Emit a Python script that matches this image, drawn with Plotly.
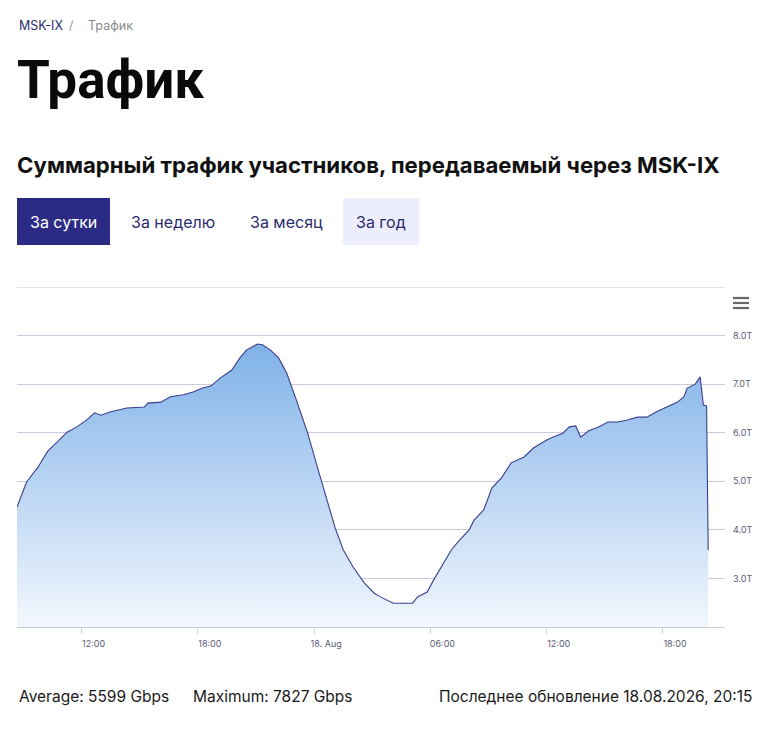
import plotly.graph_objects as go

# ---- data (Tbps) ----
times = [
    "2026-08-17 08:40", "2026-08-17 08:55", "2026-08-17 09:10", "2026-08-17 09:45",
    "2026-08-17 10:15", "2026-08-17 10:45", "2026-08-17 11:15", "2026-08-17 11:45",
    "2026-08-17 12:15", "2026-08-17 12:40", "2026-08-17 13:00", "2026-08-17 13:30",
    "2026-08-17 14:20", "2026-08-17 15:15", "2026-08-17 15:25", "2026-08-17 16:05",
    "2026-08-17 16:35", "2026-08-17 17:15", "2026-08-17 17:45", "2026-08-17 18:15",
    "2026-08-17 18:40", "2026-08-17 19:10", "2026-08-17 19:45", "2026-08-17 20:10",
    "2026-08-17 20:30", "2026-08-17 21:00", "2026-08-17 21:05", "2026-08-17 21:20",
    "2026-08-17 21:45", "2026-08-17 22:10", "2026-08-17 22:35", "2026-08-17 23:05",
    "2026-08-17 23:40", "2026-08-18 00:10", "2026-08-18 00:25", "2026-08-18 00:45",
    "2026-08-18 01:05", "2026-08-18 01:30", "2026-08-18 02:00", "2026-08-18 02:35",
    "2026-08-18 03:05", "2026-08-18 03:25", "2026-08-18 04:05", "2026-08-18 04:35",
    "2026-08-18 05:05", "2026-08-18 05:20", "2026-08-18 05:50", "2026-08-18 06:10",
    "2026-08-18 06:35", "2026-08-18 07:05", "2026-08-18 07:30", "2026-08-18 08:00",
    "2026-08-18 08:15", "2026-08-18 08:45", "2026-08-18 09:10", "2026-08-18 09:40",
    "2026-08-18 10:10", "2026-08-18 10:50", "2026-08-18 11:20", "2026-08-18 12:00",
    "2026-08-18 12:20", "2026-08-18 12:50", "2026-08-18 13:10", "2026-08-18 13:30",
    "2026-08-18 13:45", "2026-08-18 14:10", "2026-08-18 14:40", "2026-08-18 15:10",
    "2026-08-18 15:40", "2026-08-18 16:10", "2026-08-18 16:40", "2026-08-18 17:10",
    "2026-08-18 17:40", "2026-08-18 18:10", "2026-08-18 18:45", "2026-08-18 19:05",
    "2026-08-18 19:15", "2026-08-18 19:40", "2026-08-18 19:55", "2026-08-18 20:05",
    "2026-08-18 20:15", "2026-08-18 20:20",
]
traffic_tbps = [
    4.47, 4.72, 4.99, 5.29,
    5.62, 5.81, 6.01, 6.12,
    6.26, 6.41, 6.36, 6.43,
    6.51, 6.53, 6.61, 6.63,
    6.74, 6.78, 6.84, 6.92,
    6.96, 7.13, 7.29, 7.54,
    7.70, 7.81, 7.827, 7.81,
    7.70, 7.54, 7.23, 6.67,
    5.99, 5.29, 4.96, 4.47,
    4.04, 3.59, 3.24, 2.91,
    2.70, 2.62, 2.49, 2.49,
    2.49, 2.62, 2.72, 2.97,
    3.24, 3.59, 3.79, 4.00,
    4.20, 4.41, 4.86, 5.07,
    5.38, 5.50, 5.69, 5.85,
    5.91, 5.99, 6.12, 6.14,
    5.91, 6.04, 6.12, 6.22,
    6.22, 6.26, 6.32, 6.32,
    6.43, 6.53, 6.63, 6.74,
    6.92, 7.00, 7.15, 6.57,
    6.55, 3.58,
]

x_tickvals = ["2026-08-17 12:00", "2026-08-17 18:00", "2026-08-18 00:00",
              "2026-08-18 06:00", "2026-08-18 12:00", "2026-08-18 18:00"]
x_ticktext = ["12:00", "18:00", "18. Aug", "06:00", "12:00", "18:00"]
y_tickvals = [2, 3, 4, 5, 6, 7, 8, 9]
y_ticktext = ["", "3.0T", "4.0T", "5.0T", "6.0T", "7.0T", "8.0T", ""]

breadcrumb = ["MSK-IX", "/", "Трафик"]
page_title = "Трафик"
subtitle = "Суммарный трафик участников, передаваемый через MSK-IX"
buttons = ["За сутки", "За неделю", "За месяц", "За год"]
avg_text = "Average: 5599 Gbps"
max_text = "Maximum: 7827 Gbps"
updated_text = "Последнее обновление 18.08.2026, 20:15"

# ---- layout geometry (window pixels; page body has an 8px margin) ----
OFF = 8
W, H = 780 - 2 * OFF, 730 - 2 * OFF
PL, PR, PT, PB = 17, 725, 287, 627
FONT = "Inter, Roboto, sans-serif"


def px(x):
    return (x - PL) / (PR - PL)


def py(y):
    return (PB - y) / (PB - PT)


fig = go.Figure()
fig.add_trace(go.Scatter(
    x=times, y=traffic_tbps, mode="lines",
    line=dict(color="#3b3f8f", width=1.1),
    fill="tozeroy",
    fillgradient=dict(type="vertical", start=2, stop=8.6,
                      colorscale=[[0, "rgba(242,247,253,1)"],
                                  [0.5, "rgba(178,208,242,1)"],
                                  [1, "rgba(112,168,228,1)"]]),
    hoverinfo="skip", showlegend=False,
))

ann = []
shapes = []

# breadcrumb
ann.append(dict(x=px(17), y=py(25), text=breadcrumb[0], xanchor="left", yanchor="middle",
                font=dict(family=FONT, size=12.5, color="#2d2d6e")))
ann.append(dict(x=px(71), y=py(25), text=breadcrumb[1], xanchor="center", yanchor="middle",
                font=dict(family=FONT, size=12.5, color="#9a9aa8")))
ann.append(dict(x=px(86), y=py(25), text=breadcrumb[2], xanchor="left", yanchor="middle",
                font=dict(family=FONT, size=12.5, color="#8a8a8a")))
# title
ann.append(dict(x=px(15), y=py(80), text="<b>" + page_title + "</b>", xanchor="left", yanchor="middle",
                font=dict(family="Roboto, Inter, sans-serif", size=53, color="#0a0a0a")))
# subtitle
ann.append(dict(x=px(15), y=py(164), text="<b>" + subtitle + "</b>", xanchor="left", yanchor="middle",
                font=dict(family=FONT, size=22.2, color="#111111")))

# buttons
btn_centers = [63, 173, 286, 381]
shapes.append(dict(type="rect", xref="paper", yref="paper", x0=px(17), x1=px(110),
                   y0=py(198), y1=py(245), fillcolor="#2b2b86", line=dict(width=0), layer="below"))
shapes.append(dict(type="rect", xref="paper", yref="paper", x0=px(343), x1=px(419),
                   y0=py(198), y1=py(245), fillcolor="#eceefb", line=dict(width=0), layer="below"))
for i, (b, cx) in enumerate(zip(buttons, btn_centers)):
    ann.append(dict(x=px(cx), y=py(222), text=b, xanchor="center", yanchor="middle",
                    font=dict(family=FONT, size=16, color="#ffffff" if i == 0 else "#2b2b6e")))

# hamburger menu
for yy in (298, 303, 308):
    shapes.append(dict(type="line", xref="paper", yref="paper", x0=px(733), x1=px(749),
                       y0=py(yy), y1=py(yy), line=dict(color="#666666", width=2.2)))

# top plot border line (top gridline)
shapes.append(dict(type="line", xref="paper", yref="y", x0=0, x1=1, y0=9, y1=9,
                   line=dict(color="#c9c9d6", width=1)))

# bottom stats
ann.append(dict(x=px(17), y=py(696), text=avg_text, xanchor="left", yanchor="middle",
                font=dict(family=FONT, size=15.5, color="#1a1a1a")))
ann.append(dict(x=px(191), y=py(696), text=max_text, xanchor="left", yanchor="middle",
                font=dict(family=FONT, size=15.5, color="#1a1a1a")))
ann.append(dict(x=px(754), y=py(696), text=updated_text, xanchor="right", yanchor="middle",
                font=dict(family=FONT, size=15.5, color="#1a1a1a")))

for a in ann:
    a.update(xref="paper", yref="paper", showarrow=False)

fig.update_layout(
    width=W, height=H,
    margin=dict(l=PL - OFF, r=W - (PR - OFF), t=PT - OFF, b=H - (PB - OFF), pad=0),
    paper_bgcolor="#ffffff", plot_bgcolor="#ffffff",
    annotations=ann, shapes=shapes,
    xaxis=dict(type="date", range=["2026-08-17 08:40", "2026-08-18 21:12"],
               tickvals=x_tickvals, ticktext=x_ticktext,
               showgrid=False, zeroline=False,
               showline=True, linecolor="#c8cbd6", linewidth=1,
               ticks="outside", ticklen=6, tickcolor="#d0d3de", tickwidth=1,
               ticklabelshift=12, ticklabelstandoff=2,
               tickfont=dict(family=FONT, size=9, color="#5a5c78"),
               fixedrange=True),
    yaxis=dict(range=[2, 9], side="right",
               tickvals=y_tickvals, ticktext=y_ticktext,
               showgrid=True, gridcolor="#c9c9e2", gridwidth=1,
               zeroline=False, showline=False, ticks="",
               ticklabelstandoff=7,
               tickfont=dict(family=FONT, size=9, color="#5a5c78"),
               fixedrange=True),
)

fig.write_html("out.html", config={"displayModeBar": False})
